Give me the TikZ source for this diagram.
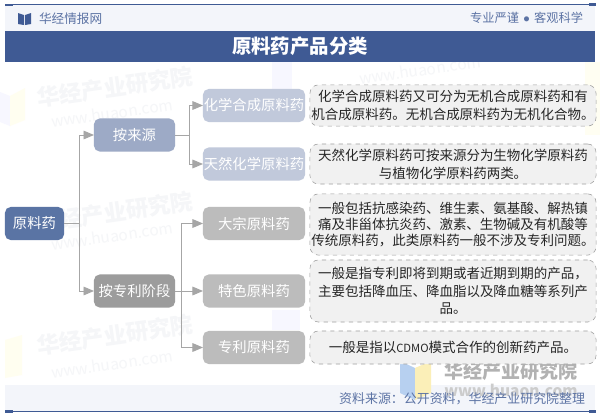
\documentclass[tikz,border=0pt]{standalone}
\usepackage{fontspec}
\setmainfont{Noto Sans CJK SC}
\usepackage{amsmath}
\usetikzlibrary{shapes,arrows}
\newcommand{\fwcomma}{\char"FF0C\relax}
\newcommand{\fwcolon}{\char"FF1A\relax}
\definecolor{titleblue}{HTML}{3F5A94}
\definecolor{rootblue}{HTML}{5A74A4}
\definecolor{midblue}{HTML}{9DAAC6}
\definecolor{leafblue}{HTML}{C1C9DB}
\definecolor{midgray}{HTML}{9C9C9C}
\definecolor{leafgray}{HTML}{BCBCBC}
\definecolor{paleband}{HTML}{F3F5FA}
\definecolor{descfill}{HTML}{F1F1F1}
\definecolor{markgray}{HTML}{F5F6F8}
\definecolor{logoblue}{HTML}{B7D0F0}
\definecolor{logoyellow}{HTML}{FBEFB8}
\begin{document}
\begin{tikzpicture}[x=0.025cm,y=-0.025cm]
\tikzstyle{every node}=[inner sep=0pt,outer sep=0pt]
\tikzstyle{catbox}=[rounded corners=4pt,text=white,minimum height=0.825cm,font=\fontsize{10.2}{12}\selectfont]
\tikzstyle{rootbox}=[catbox,fill=rootblue,minimum width=1.475cm]
\tikzstyle{midbox}=[catbox,minimum width=2.025cm]
\tikzstyle{leafbox}=[catbox,minimum width=2.55cm]
\tikzstyle{descbox}=[rounded corners=6pt,draw=gray!75,dashed,fill=descfill,minimum width=7.15cm,align=center,text=black!85,font=\fontsize{9.6}{12.6}\selectfont]
\tikzstyle{link}=[draw=gray!70,line width=0.7pt]
\tikzstyle{linkarrow}=[link,-triangle 45]
\tikzstyle{wmname}=[text=markgray,rotate=8,font=\fontsize{16}{18}\selectfont\bfseries]
\tikzstyle{wmurl}=[text=markgray,rotate=8,font=\fontsize{11}{13}\selectfont]
\useasboundingbox (0,0) rectangle (600,415);
\fill[white] (0,0) rectangle (600,415);
% watermarks
\fill[blue!3] (0,92) -- (10,96) -- (10,126) -- (0,122) -- cycle;
\fill[yellow!6] (10,96) -- (25,88) -- (25,120) -- (10,126) -- cycle;
\fill[yellow!6] (5,340) -- (22,335) -- (22,375) -- (5,378) -- cycle;
\fill[yellow!5] (585,62) rectangle (600,135);
\fill[blue!3] (272,62) rectangle (292,100);
\fill[blue!3] (272,310) rectangle (300,330);
\node[wmname] (nameA) at (115,87) {华经产业研究院};
\node[wmurl] (urlA) at (112,113) {www.huaon.com};
\node[wmname] (nameB) at (115,212) {华经产业研究院};
\node[wmurl] (urlB) at (112,236) {www.huaon.com};
\node[wmname] (nameC) at (115,335) {华经产业研究院};
\node[wmurl] (urlC) at (112,364) {www.huaon.com};
\node[wmurl] (urlD) at (420,70) {www.huaon.com};
% header and footer
\fill[paleband] (5,5) rectangle (595,31);
\fill[paleband] (5,385) rectangle (595,411);
\draw[titleblue,line width=0.6pt] (5,4.5) -- (595,4.5);
\draw[titleblue,line width=0.6pt] (5,411) -- (595,411);
\fill[titleblue] (5,3.5) rectangle (13,5.5);
\fill[titleblue] (589,3) rectangle (596,6);
\fill[titleblue] (5,410) rectangle (13,412.5);
\fill[titleblue] (589,410) rectangle (596,412.5);
\fill[titleblue] (18,13) -- (24,15) -- (24,25) -- (18,24) -- cycle;
\fill[titleblue] (31,13) -- (25,15) -- (25,25) -- (31,24) -- cycle;
\node[anchor=west,text=titleblue!85,font=\fontsize{9}{11}\selectfont] (brand) at (39,19) {华经情报网};
\node[anchor=east,text=titleblue!85,font=\fontsize{8.7}{11}\selectfont] (motto) at (583,18) {专业严谨\hspace{3pt}$\bullet$\hspace{3pt}客观科学};
\node[fill=titleblue,minimum width=14.75cm,minimum height=0.775cm,text=white,font=\fontsize{13.8}{16}\selectfont\bfseries] (title) at (300,46.5) {原料药产品分类};
% logo at the bottom
\fill[logoblue] (400,361) -- (415,368) -- (415,400) -- (400,393) -- cycle;
\fill[logoyellow] (415,368) -- (431,361) -- (431,393) -- (415,400) -- cycle;
\node[text=gray!60,font=\fontsize{13.5}{16}\selectfont\bfseries] (logoname) at (511,371) {华经产业研究院};
\node[text=gray!40,font=\fontsize{11}{13}\selectfont\bfseries] (logourl) at (511,390) {www.huaon.com};
\node[anchor=east,text=titleblue!85,font=\fontsize{9.2}{11}\selectfont] (source) at (585,399) {资料来源\fwcolon 公开资料\fwcomma 华经产业研究院整理};
% tree
\node[rootbox] (root) at (34.5,223.5) {原料药};
\node[midbox,fill=midblue] (bysource) at (134.5,135) {按来源};
\node[midbox,fill=midgray] (bypatent) at (134.5,291) {按专利阶段};
\node[leafbox,fill=leafblue] (chem) at (254,105.5) {化学合成原料药};
\node[leafbox,fill=leafblue] (natural) at (254,164) {天然化学原料药};
\node[leafbox,fill=leafgray] (bulk) at (254,223.5) {大宗原料药};
\node[leafbox,fill=leafgray] (special) at (254,291) {特色原料药};
\node[leafbox,fill=leafgray] (patent) at (254,347.5) {专利原料药};
\coordinate (forkA) at (79,223.5);
\coordinate (forkB) at (189,135);
\coordinate (forkC) at (181,291);
\draw[link] (root.east) -- (forkA);
\draw[linkarrow] (forkA) |- (bysource.west);
\draw[linkarrow] (forkA) |- (bypatent.west);
\draw[link] (bysource.east) -- (forkB);
\draw[linkarrow] (forkB) |- (chem.west);
\draw[linkarrow] (forkB) |- (natural.west);
\draw[linkarrow] (bypatent.east) -- (special.west);
\draw[linkarrow] (forkC) |- (bulk.west);
\draw[linkarrow] (forkC) |- (patent.west);
% descriptions
\node[descbox,minimum height=1.03cm] (chemtext) at (453,105.5) {化学合成原料药又可分为无机合成原料药和有\\机合成原料药。无机合成原料药为无机化合物。};
\node[descbox,minimum height=1cm] (naturaltext) at (453,164) {天然化学原料药可按来源分为生物化学原料药\\与植物化学原料药两类。};
\node[descbox,minimum height=1.53cm,font=\fontsize{9.6}{11.6}\selectfont] (bulktext) at (453,224.5) {一般包括抗感染药、维生素、氨基酸、解热镇\\痛及非甾体抗炎药、激素、生物碱及有机酸等\\传统原料药\fwcomma 此类原料药一般不涉及专利问题。};
\node[descbox,minimum height=1.55cm] (specialtext) at (453,291) {一般是指专利即将到期或者近期到期的产品\fwcomma\\主要包括降血压、降血脂以及降血糖等系列产\\品。};
\node[descbox,minimum height=0.825cm] (patenttext) at (453,347.5) {一般是指以{\fontsize{8}{9}\selectfont CDMO}模式合作的创新药产品。};
\end{tikzpicture}
\end{document}
